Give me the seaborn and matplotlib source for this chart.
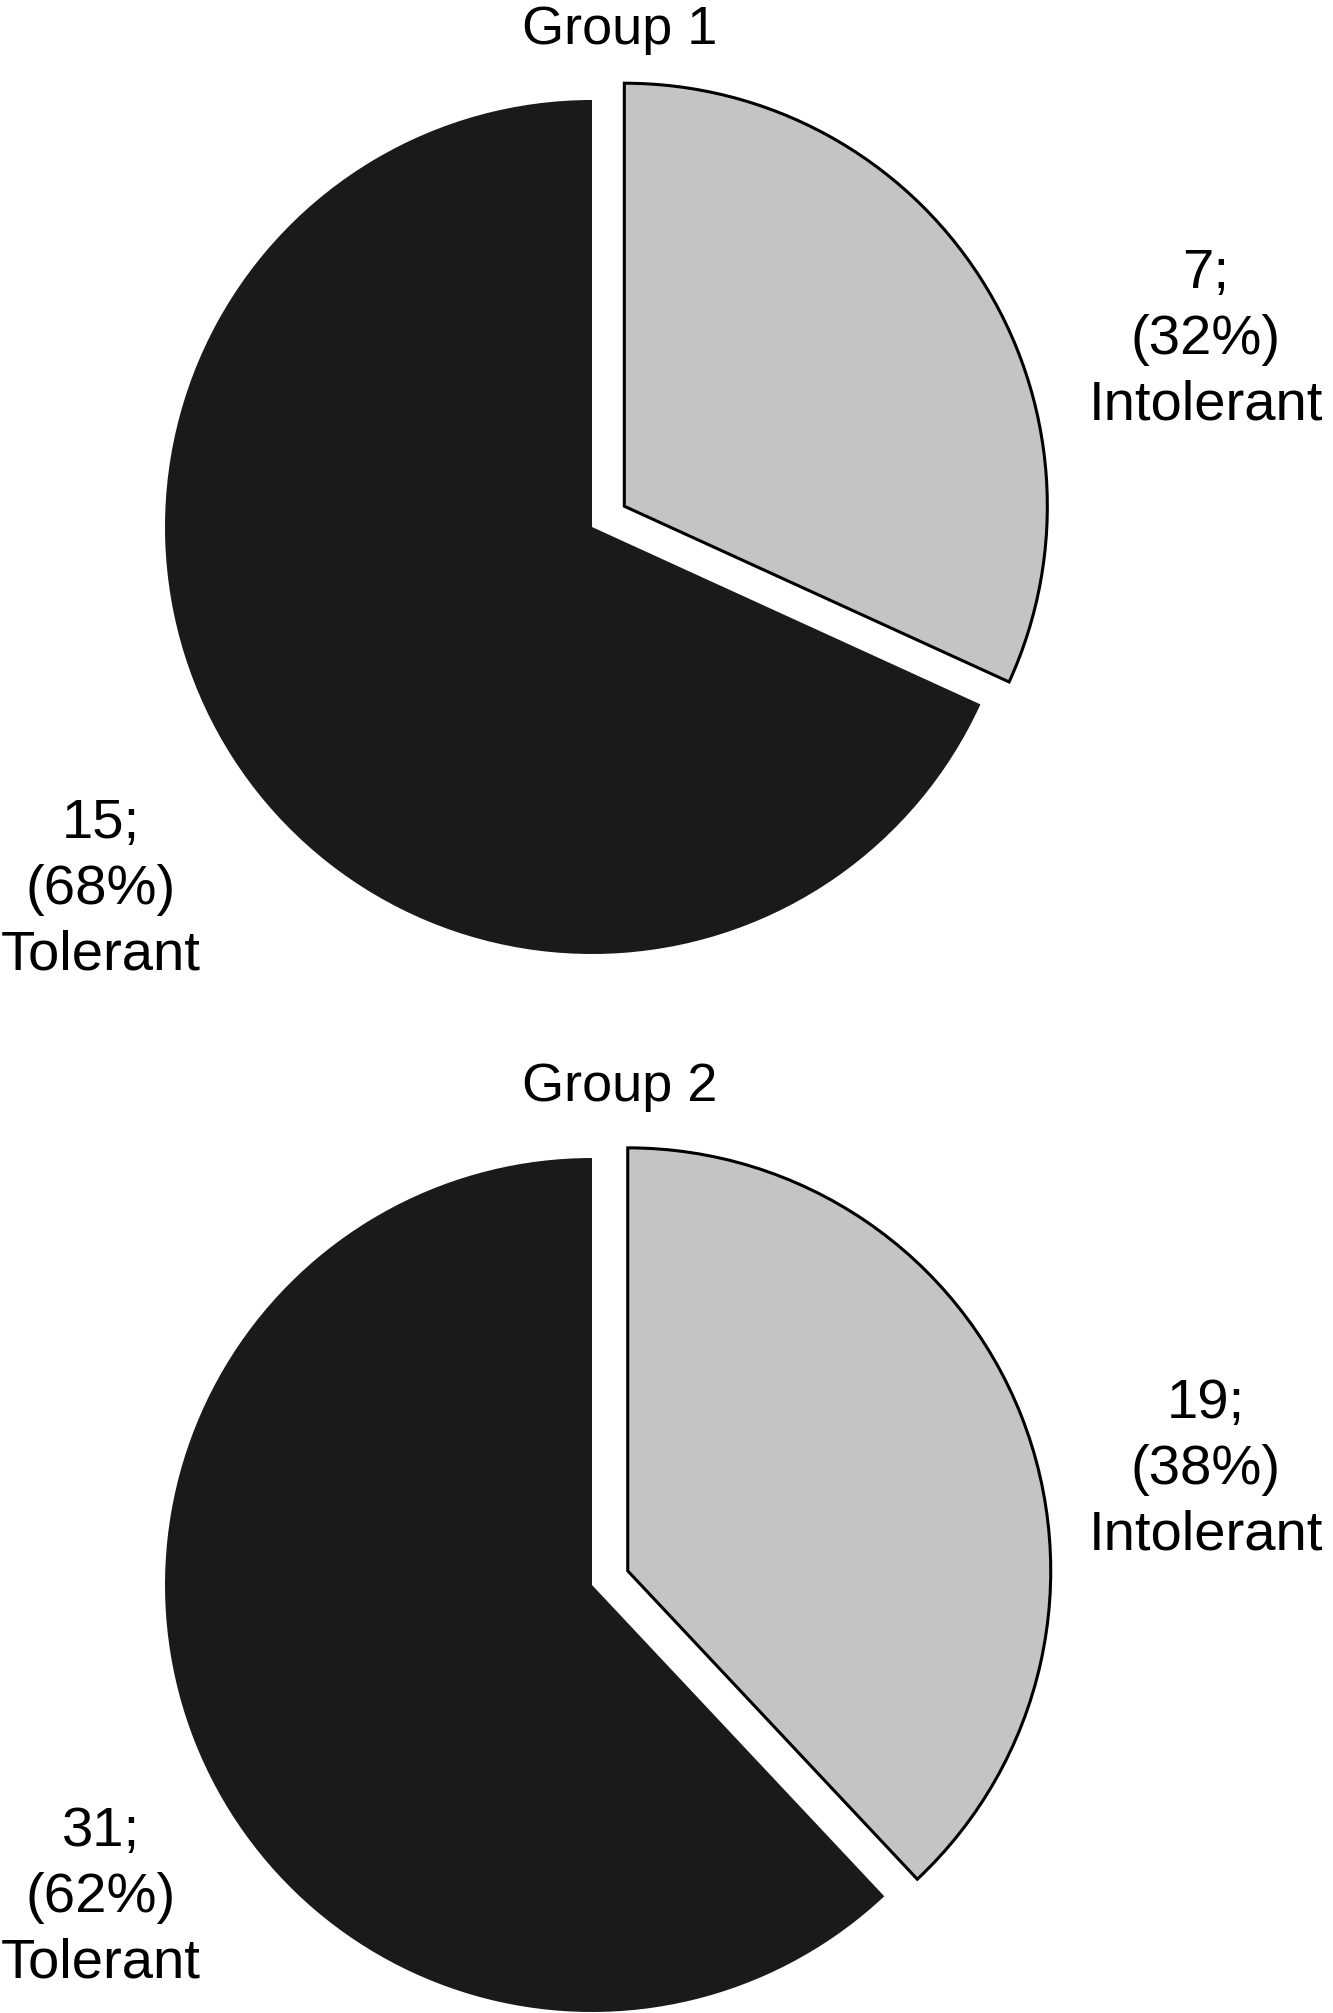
import matplotlib
matplotlib.use("Agg")
import matplotlib.pyplot as plt
import seaborn as sns

# data
groups = ["Group 1", "Group 2"]
categories = ["Intolerant", "Tolerant"]
intolerant_counts = [7, 19]
tolerant_counts = [15, 31]
colors = ["#c4c4c4", "#1a1a1a"]

sns.set_style("white")
plt.rcParams["font.family"] = ["Liberation Sans", "DejaVu Sans"]
plt.rcParams["text.color"] = "black"

W, H = 1333, 2013
fig = plt.figure(figsize=(W / 100, H / 100), dpi=100)
ax = fig.add_axes([0, 0, 1, 1])
ax.set_xlim(0, W)
ax.set_ylim(0, H)
ax.set_aspect("equal")
ax.axis("off")

radius = 427
# layout per panel: pie centre (image px), title y, label y's
centres = [(592, 527), (592, 1585)]
title_y = [30, 1087]
label_y_right = [340, 1470]
label_y_left = [890, 1898]

for i, g in enumerate(groups):
    counts = [intolerant_counts[i], tolerant_counts[i]]
    total = sum(counts)
    cx, cy = centres[i]
    # explode is in data units here, so scale by the radius
    wedges, _ = ax.pie(counts, colors=colors, startangle=90, counterclock=False,
                       explode=[0.09 * radius, 0], center=(cx, H - cy), radius=radius,
                       wedgeprops=dict(linewidth=0))
    wedges[0].set_radius(radius - 4)
    wedges[0].set_edgecolor("black")
    wedges[0].set_linewidth(2.2)
    ax.text(620, H - title_y[i], g, ha="center", va="center", fontsize=39, color="black")
    pcts = [round(100 * c / total) for c in counts]
    ax.text(1206, H - label_y_right[i],
            f"{counts[0]};\n({pcts[0]}%)\n{categories[0]}",
            ha="center", va="center", fontsize=40.5, linespacing=1.35, color="black")
    ax.text(101, H - label_y_left[i],
            f"{counts[1]};\n({pcts[1]}%)\n{categories[1]}",
            ha="center", va="center", fontsize=40.5, linespacing=1.35, color="black")

ax.set_xlim(0, W)
ax.set_ylim(0, H)
fig.savefig("out.png", dpi=100, facecolor="white")
